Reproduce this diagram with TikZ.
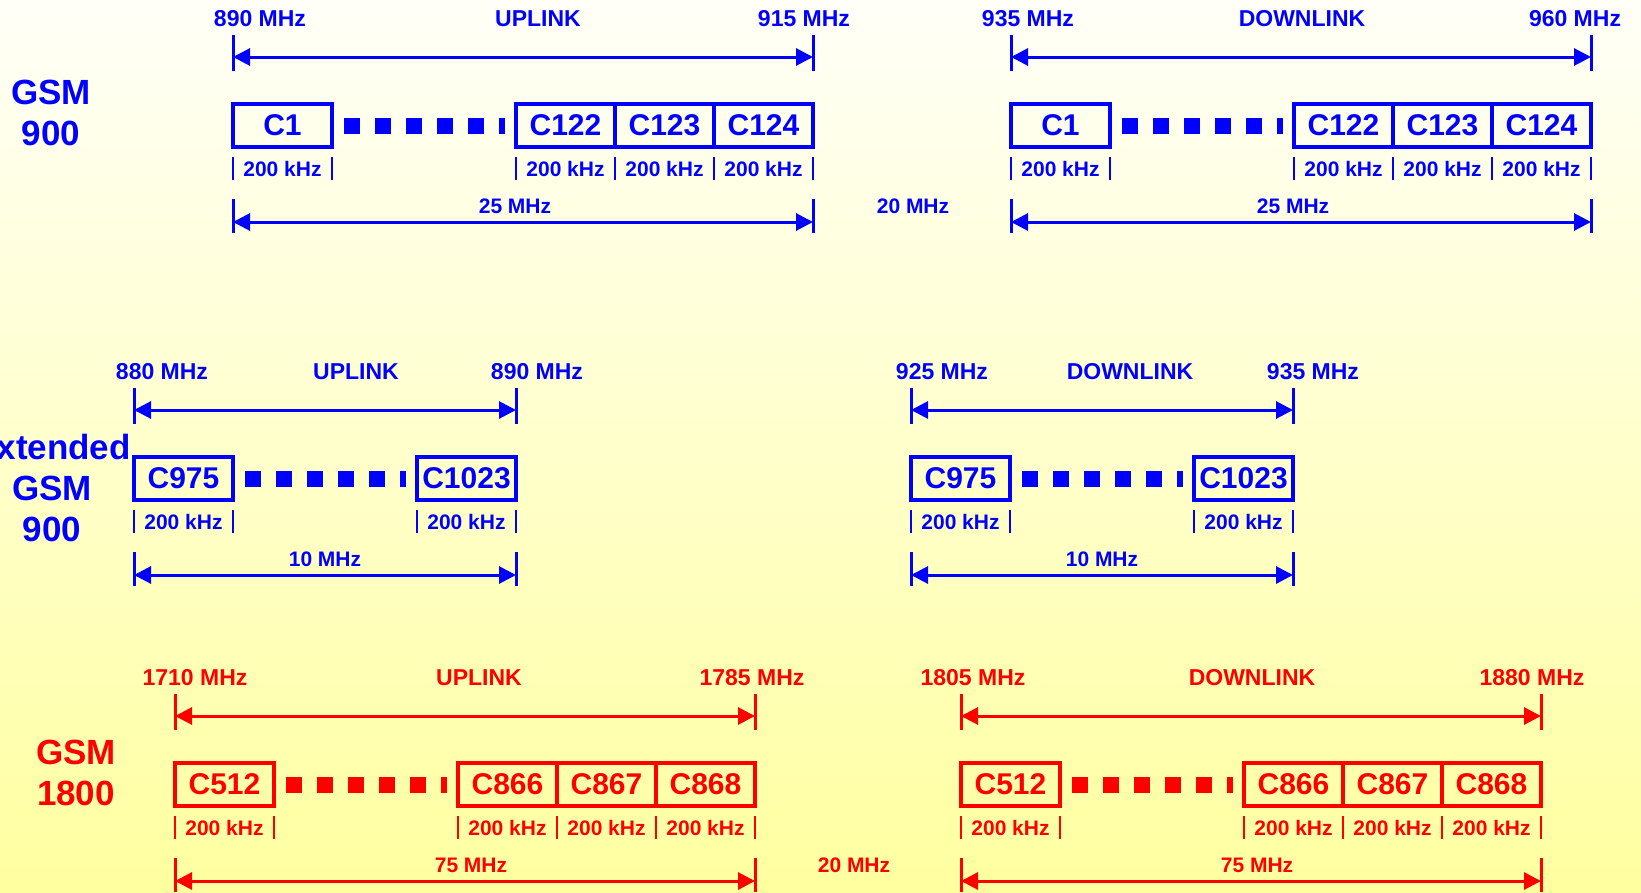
\documentclass[tikz,border=0pt]{standalone}
\usepackage{fontspec}
\setmainfont{Liberation Sans}
\usetikzlibrary{positioning,arrows.meta}

\definecolor{bgtop}{RGB}{255,255,248}
\definecolor{bgmid}{RGB}{255,255,214}
\definecolor{bgbot}{RGB}{255,255,160}

\tikzset{
  chan/.style={draw, line width=3.4pt, minimum width=99pt, minimum height=43pt, inner sep=0pt, outer sep=0pt, font=\fontsize{30}{30}\selectfont\bfseries},
  khz/.style={font=\fontsize{21}{21}\selectfont\bfseries, inner sep=0pt},
  khztick/.style={line width=2.6pt},
  bandtick/.style={line width=3pt},
  bandarrow/.style={line width=3pt, {Triangle[length=17pt,width=17pt]}-{Triangle[length=17pt,width=17pt]}},
  dots/.style={line width=16pt, dash pattern=on 16pt off 15pt, shorten <=12pt, shorten >=11pt},
  freq/.style={font=\fontsize{23}{23}\selectfont\bfseries, inner sep=0pt},
  total/.style={font=\fontsize{21}{21}\selectfont\bfseries, inner sep=0pt},
  sysname/.style={font=\fontsize{35}{41}\selectfont\bfseries, align=center, inner sep=0pt},
}

% width label and bars under one channel box
\newcommand{\khzlabel}[1]{%
  \node[khz] (#1-khz) at ([yshift=-43pt]#1.center) {200 kHz};
  \draw[khztick] ([yshift=-10pt]#1.south west) -- ([yshift=-33pt]#1.south west);
  \draw[khztick] ([yshift=-10pt]#1.south east) -- ([yshift=-33pt]#1.south east);
}

\begin{document}
\begin{tikzpicture}[x=1pt, y=-1pt]
  \useasboundingbox (0,0) rectangle (1641,892);
  \shade[top color=bgtop, middle color=bgmid, bottom color=bgbot] (0,0) rectangle (1641,892);

  \node[sysname, text=blue] (gsm900) at (51,113) {GSM\\900};
  \node[sysname, text=blue] (egsm900) at (52,488) {Extended\\GSM\\900};
  \node[sysname, text=red] (gsm1800) at (76,773) {GSM\\1800};

  % name/colour/left x/row y/first channel/last channels/count/total/label shift
  \foreach \bn/\col/\xl/\y/\fst/\chs/\k/\tot/\dx in {
      gu/blue/233/0/C1/{C122,C123,C124}/3/25 MHz/-8,
      gd/blue/1011/0/C1/{C122,C123,C124}/3/25 MHz/-8,
      eu/blue/134/353/C975/{C1023}/1/10 MHz/0,
      ed/blue/911/353/C975/{C1023}/1/10 MHz/0,
      du/red/175/659/C512/{C866,C867,C868}/3/75 MHz/6,
      dd/red/961/659/C512/{C866,C867,C868}/3/75 MHz/6}
  {
    \begin{scope}[color=\col]
      \pgfmathsetmacro\xr{\xl+283+99*\k}
      \coordinate (\bn-l) at (\xl,\y+57);
      \coordinate (\bn-r) at (\xr,\y+57);
      \coordinate (\bn-bl) at (\xl,\y+222);
      \coordinate (\bn-br) at (\xr,\y+222);
      \draw[bandarrow] (\bn-l) -- (\bn-r);
      \draw[bandarrow] (\bn-bl) -- (\bn-br);
      \foreach \c in {\bn-l,\bn-r}
        \draw[bandtick] ([yshift=22pt]\c) -- ([yshift=-14pt]\c);
      \foreach \c in {\bn-bl,\bn-br}
        \draw[bandtick] ([yshift=23pt]\c) -- ([yshift=-11pt]\c);
      \node[total] (\bn-tot) at (\xl/2+\xr/2+\dx,\y+206) {\tot};

      \node[chan] (\bn-f) at (\xl+49.5,\y+125.5) {\fst};
      \khzlabel{\bn-f}
      \foreach \c [count=\i] in \chs {
        \node[chan] (\bn-c\i) at (\xl+283+49.5+99*\i-99,\y+125.5) {\c};
        \khzlabel{\bn-c\i}
      }
      \draw[dots] (\bn-f.east) -- (\bn-c1.west);
    \end{scope}
  }

  \foreach \x/\y/\col/\txt [count=\i] in {
      260/19/blue/890 MHz, 538/19/blue/UPLINK, 804/19/blue/915 MHz,
      1028/19/blue/935 MHz, 1302/19/blue/DOWNLINK, 1575/19/blue/960 MHz,
      162/372/blue/880 MHz, 356/372/blue/UPLINK, 537/372/blue/890 MHz,
      942/372/blue/925 MHz, 1130/372/blue/DOWNLINK, 1313/372/blue/935 MHz,
      195/678/red/1710 MHz, 479/678/red/UPLINK, 752/678/red/1785 MHz,
      973/678/red/1805 MHz, 1252/678/red/DOWNLINK, 1532/678/red/1880 MHz}
    \node[freq, text=\col] (lbl\i) at (\x,\y) {\txt};

  \node[total, text=blue] (gap900) at (913,206) {20 MHz};
  \node[total, text=red] (gap1800) at (854,865) {20 MHz};
\end{tikzpicture}
\end{document}
